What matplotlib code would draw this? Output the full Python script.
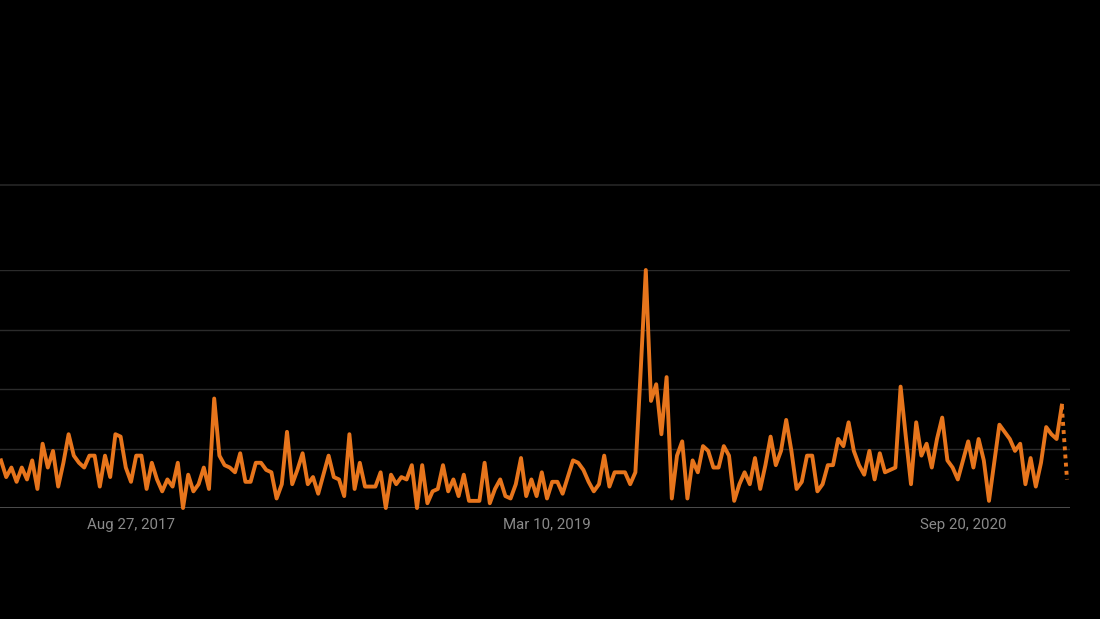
import pandas as pd
import matplotlib.pyplot as plt
from matplotlib.lines import Line2D

# weekly interest values (0-100), first week Mar 5, 2017
start_date = "2017-03-05"
values = [
    20, 13, 17, 11, 17, 12, 20, 8, 27, 17, 24, 9, 19, 31, 22, 19, 17, 22, 22, 9,
    22, 13, 31, 30, 17, 11, 22, 22, 8, 19, 12, 7, 12, 9, 19, 0,
    14, 7, 10, 17, 8, 46, 22, 18, 17, 15, 23, 11, 11, 19, 19, 16, 15, 4, 10, 32,
    10, 16, 23, 10, 13, 6, 14, 22, 13, 12, 5, 31, 8,
    19, 9, 9, 9, 15, 0, 14, 10, 13, 12, 18, 0, 18, 2, 7, 8, 18, 7, 12, 5,
    14, 3, 3, 3, 19, 2, 8, 12, 5, 4, 10, 21,
    5, 12, 5, 15, 4, 11, 11, 6, 13, 20, 19, 16, 11, 7, 10, 22, 9, 15, 15, 15,
    10, 15, 57, 100, 45, 52, 31, 55, 4, 22, 28, 4, 20, 15,
    26, 24, 17, 17, 26, 22, 3, 10, 15, 10, 21, 8, 18, 30, 18, 24, 37, 24, 8, 11,
    22, 22, 7, 10, 18, 18, 29, 26, 36, 24, 18, 14, 24, 12, 23, 15, 16,
    17, 51, 30, 10, 36, 22, 27, 17, 29, 38, 20, 17, 12, 20, 28, 17, 29, 20, 3,
    19, 35, 32, 29, 24, 27, 10, 21, 9, 19, 34, 31, 29, 43, 12,
]
tick_dates = ["2017-08-27", "2019-03-10", "2020-09-20"]
tick_labels = ["Aug 27, 2017", "Mar 10, 2019", "Sep 20, 2020"]

dates = pd.date_range(start_date, periods=len(values), freq="7D")

W, H = 1100, 619
fig = plt.figure(figsize=(W / 100, H / 100), dpi=100)
fig.set_facecolor("black")

# axes: left 0px, right 1070px, y=0 at 508px, y=100 at 270px
ax = fig.add_axes([0, (H - 508) / H, 1070 / W, 238 / H])
ax.set_facecolor("black")

orange = "#e7751c"
ax.plot(dates[:-1], values[:-1], color=orange, lw=2.8, clip_on=False, zorder=3)
ax.plot(dates[-2:], values[-2:], color=orange, lw=2.8, ls=(0, (1, 1.1)), clip_on=False, zorder=3)

# x range: first week at 1px, 5.2px per week
week = pd.Timedelta(days=7)
ax.set_xlim(dates[0] - week * (1 / 5.2), dates[0] + week * ((1070 - 1) / 5.2))
ax.set_ylim(0, 100)

for v in [25, 50, 75, 100]:
    ax.axhline(v, color="#2b2b2b", lw=1, zorder=1)
ax.axhline(0, color="#5a5a5a", lw=1.2, zorder=2)

for spine in ax.spines.values():
    spine.set_visible(False)
ax.set_yticks([])
ax.set_xticks(pd.to_datetime(tick_dates))
ax.set_xticklabels(tick_labels)
ax.tick_params(axis="x", length=0, pad=7, labelsize=10.8, labelcolor="#8a8a8a")
for t in ax.get_xticklabels():
    t.set_family("Roboto")

# separator line near the top
fig.add_artist(Line2D([0, 1], [(H - 185) / H] * 2, color="#262626", lw=1.2))

plt.savefig("out.png", dpi=100, facecolor=fig.get_facecolor())
plt.close()
